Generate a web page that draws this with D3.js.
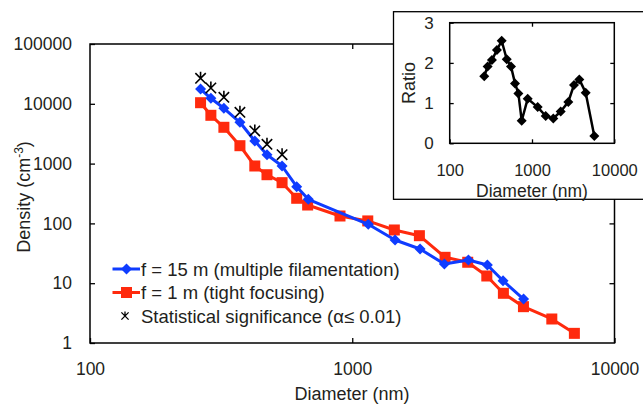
<!DOCTYPE html>
<html><head><meta charset="utf-8">
<script src="https://cdn.jsdelivr.net/npm/d3@7"></script>
<style>
body{margin:0;background:#fff}
text{font-family:Arial,"Liberation Sans",sans-serif;fill:#231f20}
</style>
</head><body>
<svg id="c" width="643" height="405"></svg>
<script>
// ---- data ----
const blueD = [264,289,324,373,425,473,540,614,680,1151,1456,1814,2245,2773,3275,3758,4500];
const blueV = [17670,12360,8410,4910,2387,1409,912,411,253,96.6,52.8,37.3,20.9,24.4,20.2,11.0,5.44];
const redD  = [264,289,324,373,425,473,540,614,676,898,1146,1447,1803,2259,2756,3259,3770,4496,5767,7031];
const redV  = [10430,6420,4047,1992,912,652,480,263,203,133,110,77.6,62.3,27.1,22.4,13.2,6.78,4.05,2.52,1.45];
const sigD  = [264,289,324,373,425,473,540];
const sigV  = [26680,18370,12840,7210,3510,2100,1409];
const ratioD = [263,289,326,375,428,493,556,622,683,750,887,1172,1466,1815,2232,2762,3236,3758,4490,5714];
const ratioV = [1.67,1.91,2.07,2.32,2.55,2.09,1.91,1.49,1.24,0.56,1.11,0.90,0.68,0.62,0.79,1.03,1.45,1.59,1.26,0.18];
const xTicks = [100,1000,10000];
const yTicks = [1,10,100,1000,10000,100000];
const rTicks = [0,1,2,3];
const legendLabels = ["f = 15 m (multiple filamentation)","f = 1 m (tight focusing)","Statistical significance (\u03B1\u2264 0.01)"];

const BLUE = "#0f3cff", RED = "#ff2a0d";
const svg = d3.select("#c");

// ---- main plot ----
const x = d3.scaleLog().domain([100,10000]).range([90,614.5]);
const y = d3.scaleLog().domain([1,100000]).range([343,44]);
const fmt = d => String(d);

function axisStyle(g, fs){
  g.select(".domain").remove();
  g.selectAll(".tick line").attr("stroke","#000").attr("stroke-width",1.3);
  g.selectAll(".tick text").style("font-size",fs+"px").attr("fill","#231f20");
}
const main = svg.append("g");
main.append("rect").attr("x",x(100)).attr("y",y(100000)).attr("width",x(10000)-x(100)).attr("height",y(1)-y(100000))
  .attr("fill","none").attr("stroke","#000").attr("stroke-width",1.5);
main.append("g").attr("transform",`translate(${x(100)},0)`)
  .call(d3.axisLeft(y).tickValues(yTicks).tickFormat(fmt).tickSize(-5).tickPadding(18)).call(g=>axisStyle(g,17.5));
main.append("g").attr("transform",`translate(${x(10000)},0)`)
  .call(d3.axisRight(y).tickValues(yTicks.slice(1,-1)).tickFormat("").tickSize(-5)).call(g=>axisStyle(g,16));
main.append("g").attr("transform",`translate(0,${y(1)})`)
  .call(d3.axisBottom(x).tickValues(xTicks).tickFormat(fmt).tickSize(-5).tickPadding(20)).call(g=>axisStyle(g,17.5));
main.append("g").attr("transform",`translate(0,${y(100000)})`)
  .call(d3.axisTop(x).tickValues([1000]).tickFormat("").tickSize(-5)).call(g=>axisStyle(g,16));

main.append("text").attr("x",352).attr("y",400).attr("text-anchor","middle").style("font-size","18px").text("Diameter (nm)");
const yl = main.append("text").attr("transform","translate(30,197) rotate(-90)").attr("text-anchor","middle").style("font-size","18px");
yl.append("tspan").text("Density (cm");
yl.append("tspan").attr("dy",-7).style("font-size","12px").text("-3");
yl.append("tspan").attr("dy",7).text(")");

const line = d3.line();
const bluePts = blueD.map((d,i)=>[x(d),y(blueV[i])]);
const redPts  = redD.map((d,i)=>[x(d),y(redV[i])]);
main.append("path").attr("d",line(redPts)).attr("fill","none").attr("stroke",RED).attr("stroke-width",3).attr("stroke-linejoin","round");
main.selectAll(".rs").data(redPts).join("rect").attr("x",p=>p[0]-5.5).attr("y",p=>p[1]-5.5).attr("width",11).attr("height",11).attr("fill",RED);
main.append("path").attr("d",line(bluePts)).attr("fill","none").attr("stroke",BLUE).attr("stroke-width",3).attr("stroke-linejoin","round");
const diamond = (cx,cy,r)=>`M${cx},${cy-r}L${cx+r},${cy}L${cx},${cy+r}L${cx-r},${cy}Z`;
main.selectAll(".bd").data(bluePts).join("path").attr("d",p=>diamond(p[0],p[1],5.5)).attr("fill",BLUE);

const starX = (cx,cy,r)=>`M${cx-r*0.8},${cy-r*0.8}L${cx+r*0.8},${cy+r*0.8}M${cx+r*0.8},${cy-r*0.8}L${cx-r*0.8},${cy+r*0.8}M${cx},${cy-r}L${cx},${cy+r*0.2}`;
main.selectAll(".st").data(sigD.map((d,i)=>[x(d),y(sigV[i])])).join("path")
  .attr("d",p=>starX(p[0],p[1],6.5)).attr("stroke","#000").attr("stroke-width",1.6).attr("fill","none");

// legend
const lg = main.append("g");
const ly = [269,292.5,316];
lg.append("line").attr("x1",112.5).attr("x2",140).attr("y1",ly[0]).attr("y2",ly[0]).attr("stroke",BLUE).attr("stroke-width",3);
lg.append("path").attr("d",diamond(126.5,ly[0],5.5)).attr("fill",BLUE);
lg.append("line").attr("x1",112.5).attr("x2",140).attr("y1",ly[1]).attr("y2",ly[1]).attr("stroke",RED).attr("stroke-width",3);
lg.append("rect").attr("x",121).attr("y",ly[1]-5.5).attr("width",11).attr("height",11).attr("fill",RED);
lg.append("path").attr("d",starX(125,ly[2],4.5)).attr("stroke","#000").attr("stroke-width",1.3).attr("fill","none");
legendLabels.forEach((t,i)=>lg.append("text").attr("x",141).attr("y",ly[i]+6.5).style("font-size","18.5px").text(t));

// ---- inset ----
const ins = svg.append("g");
ins.append("rect").attr("x",393.5).attr("y",11.7).attr("width",260).attr("height",187.6).attr("fill","#fff").attr("stroke","#000").attr("stroke-width",1.3);
const ix = d3.scaleLog().domain([100,10000]).range([449.7,614.3]);
const iy = d3.scaleLinear().domain([0,3]).range([143.3,22.7]);
ins.append("rect").attr("x",ix(100)).attr("y",iy(3)).attr("width",ix(10000)-ix(100)).attr("height",iy(0)-iy(3))
  .attr("fill","none").attr("stroke","#000").attr("stroke-width",1.5);
ins.append("g").attr("transform",`translate(${ix(100)},0)`)
  .call(d3.axisLeft(iy).tickValues(rTicks).tickFormat(fmt).tickSize(-4).tickPadding(16)).call(g=>axisStyle(g,17));
ins.append("g").attr("transform",`translate(${ix(10000)},0)`)
  .call(d3.axisRight(iy).tickValues([1,2]).tickFormat("").tickSize(-4)).call(g=>axisStyle(g,16));
ins.append("g").attr("transform",`translate(0,${iy(0)})`)
  .call(d3.axisBottom(ix).tickValues(xTicks).tickFormat(fmt).tickSize(-4).tickPadding(21)).call(g=>axisStyle(g,16.5));
ins.append("g").attr("transform",`translate(0,${iy(3)})`)
  .call(d3.axisTop(ix).tickValues([1000]).tickFormat("").tickSize(-4)).call(g=>axisStyle(g,16));
ins.append("text").attr("x",532).attr("y",196.5).attr("text-anchor","middle").style("font-size","17.5px").text("Diameter (nm)");
ins.append("text").attr("transform","translate(415,83) rotate(-90)").attr("text-anchor","middle").style("font-size","18px").text("Ratio");
const rPts = ratioD.map((d,i)=>[ix(d),iy(ratioV[i])]);
ins.append("path").attr("d",line(rPts)).attr("fill","none").attr("stroke","#000").attr("stroke-width",2.5).attr("stroke-linejoin","round");
ins.selectAll(".rd").data(rPts).join("path").attr("d",p=>diamond(p[0],p[1],5)).attr("fill","#000");
</script>
</body></html>
